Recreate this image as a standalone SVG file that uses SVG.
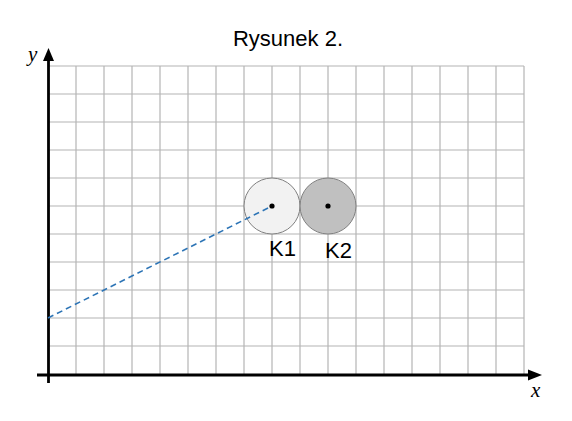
<svg xmlns="http://www.w3.org/2000/svg" width="572" height="421" viewBox="0 0 572 421">
  <style>
    .grid line { stroke: #b4b4b4; stroke-width: 1.2; }
    .axis { stroke: #000; stroke-width: 2.8; fill: none; }
    .head { fill: #000; }
    .lbl { font-family: "Liberation Sans", Arial, sans-serif; font-size: 22px; fill: #000; }
    .ax { font-family: "Liberation Serif", "Times New Roman", serif; font-style: italic; font-size: 21px; fill: #000; }
    .circ { stroke: #808080; stroke-width: 1; }
    .dot { fill: #000; }
    .dash { stroke: #2e75b6; stroke-width: 1.6; stroke-dasharray: 6 4; fill: none; }
  </style>
  <rect width="572" height="421" fill="#fff"/>
  <text class="lbl" x="288" y="46" text-anchor="middle">Rysunek 2.</text>
  <g id="grid" class="grid">
    <line x1="76" y1="66" x2="76" y2="375"/>
    <line x1="104" y1="66" x2="104" y2="375"/>
    <line x1="132" y1="66" x2="132" y2="375"/>
    <line x1="160" y1="66" x2="160" y2="375"/>
    <line x1="188" y1="66" x2="188" y2="375"/>
    <line x1="216" y1="66" x2="216" y2="375"/>
    <line x1="244" y1="66" x2="244" y2="375"/>
    <line x1="272" y1="66" x2="272" y2="375"/>
    <line x1="300" y1="66" x2="300" y2="375"/>
    <line x1="328" y1="66" x2="328" y2="375"/>
    <line x1="356" y1="66" x2="356" y2="375"/>
    <line x1="384" y1="66" x2="384" y2="375"/>
    <line x1="412" y1="66" x2="412" y2="375"/>
    <line x1="440" y1="66" x2="440" y2="375"/>
    <line x1="468" y1="66" x2="468" y2="375"/>
    <line x1="496" y1="66" x2="496" y2="375"/>
    <line x1="524" y1="66" x2="524" y2="375"/>
    <line x1="48" y1="66" x2="524" y2="66"/>
    <line x1="48" y1="94" x2="524" y2="94"/>
    <line x1="48" y1="122" x2="524" y2="122"/>
    <line x1="48" y1="150" x2="524" y2="150"/>
    <line x1="48" y1="178" x2="524" y2="178"/>
    <line x1="48" y1="206" x2="524" y2="206"/>
    <line x1="48" y1="234" x2="524" y2="234"/>
    <line x1="48" y1="262" x2="524" y2="262"/>
    <line x1="48" y1="290" x2="524" y2="290"/>
    <line x1="48" y1="318" x2="524" y2="318"/>
    <line x1="48" y1="346" x2="524" y2="346"/>
  </g>
  <g id="axes">
    <line class="axis" x1="48.5" y1="383" x2="48.5" y2="60"/>
    <polygon class="head" points="48.5,48 43,61 54,61"/>
    <line class="axis" x1="37" y1="375" x2="530" y2="375"/>
    <polygon class="head" points="542,375 528,369.5 528,380.5"/>
    <text class="ax" x="28" y="61">y</text>
    <text class="ax" x="531" y="397">x</text>
  </g>
  <g id="K1">
    <circle class="circ" cx="272" cy="206" r="28" fill="#f2f2f2"/>
    <text class="lbl" x="269" y="256">K1</text>
  </g>
  <g id="K2">
    <circle class="circ" cx="328" cy="206" r="28" fill="#c0c0c0"/>
    <text class="lbl" x="325" y="258">K2</text>
  </g>
  <g id="connectors">
    <line class="dash" x1="48" y1="318" x2="272" y2="206"/>
  </g>
  <g id="dots">
    <circle class="dot" cx="272" cy="206" r="2.6"/>
    <circle class="dot" cx="328" cy="206" r="2.6"/>
  </g>
</svg>
